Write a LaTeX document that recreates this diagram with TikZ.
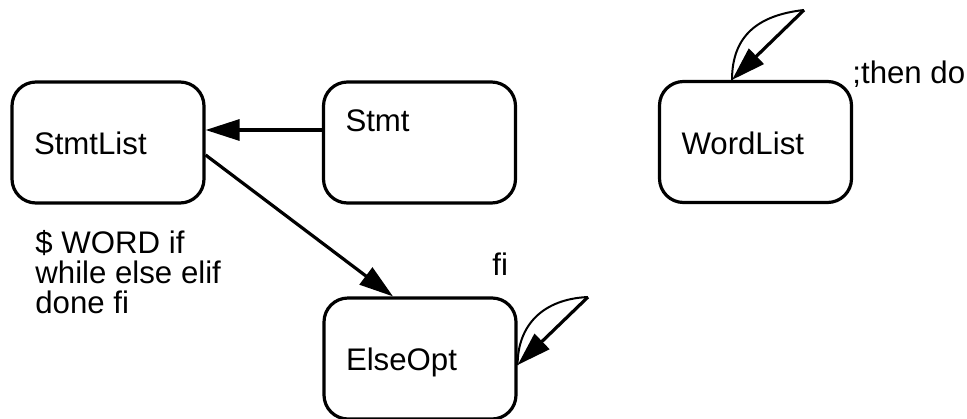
\documentclass[tikz,border=0pt]{standalone}
\usepackage{fontspec}
\setmainfont{Liberation Sans}
\usetikzlibrary{arrows.meta}
\newcommand{\lbl}{\fontsize{15.6}{15}\selectfont}
\tikzset{
  state/.style={draw, line width=1.6pt, rounded corners=12pt,
    minimum width=96pt, minimum height=60.5pt, inner xsep=11pt,
    text width=74pt, align=left, text height=12pt, text depth=0pt, font=\lbl},
  trans/.style={line width=1.6pt, -{Triangle[length=17pt,width=10.5pt]}},
  selfarc/.style={line width=1pt},
  txt/.style={inner sep=0pt, font=\lbl}
}
\begin{document}
\begin{tikzpicture}[x=0.5pt,y=-0.5pt]
\useasboundingbox (0,0) rectangle (967,418);
% states
\node[state] (stmtlist) at (108,142.5) {StmtList};
\node[state, text depth=23pt] (stmt) at (419.5,142.5) {Stmt};
\node[state] (wordlist) at (755.5,142) {WordList};
\node[state] (elseopt) at (420,358.5) {ElseOpt};
% transitions
\draw[trans] ([yshift=6.25pt]stmt.west) -- ([yshift=6.25pt]stmtlist.east);
\draw[trans] ([yshift=-6.25pt]stmtlist.east) -- ([xshift=-13.5pt]elseopt.north);
% self loops
\coordinate (elsefoot) at ([yshift=-3.25pt]elseopt.east);
\coordinate (elsetip) at (588,297);
\draw[selfarc] (elsefoot) .. controls +(0,-40) and +(-45,2) .. (elsetip);
\draw[trans] (elsetip) -- (elsefoot);
\coordinate (wordfoot) at ([xshift=-11.75pt]wordlist.north);
\coordinate (wordtip) at (804,10);
\draw[selfarc] (wordfoot) .. controls +(0,-45) and +(-45,5) .. (wordtip);
\draw[trans] (wordtip) -- (wordfoot);
% labels
\node[txt, anchor=base west] (fi) at (492,275) {fi};
\node[txt, anchor=base west] (thendo) at (852,83) {;then do};
\node[txt, anchor=base west, align=left] (tokens) at (35,313) {\$ WORD if\\while else elif\\done fi};
\end{tikzpicture}
\end{document}
